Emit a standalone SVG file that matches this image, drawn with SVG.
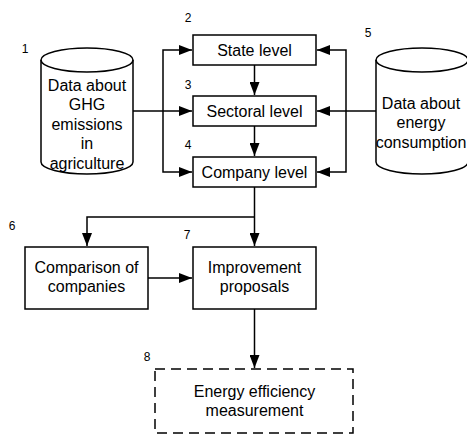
<svg xmlns="http://www.w3.org/2000/svg" width="467" height="435" viewBox="0 0 467 435">
<style>
text{font-family:"Liberation Sans",Arial,sans-serif;font-size:16px;fill:#000;text-anchor:middle;dominant-baseline:central}
.num{font-size:12px}
.box{fill:#fff;stroke:#000;stroke-width:1.5}
.dash{fill:#fff;stroke:#000;stroke-width:1.5;stroke-dasharray:10 6}
.cyl{fill:#fff;stroke:#000;stroke-width:1.5}
.c{fill:none;stroke:#000;stroke-width:1.5}
</style>
<defs>
<marker id="ah" markerUnits="userSpaceOnUse" markerWidth="14" markerHeight="10" refX="13" refY="5" orient="auto">
<path d="M0,0 L13,5 L0,10 Z" fill="#000"/>
</marker>
</defs>
<rect width="467" height="435" fill="#fff"/>
<g id="connectors">
<path class="c" d="M133,111 H192" marker-end="url(#ah)"/>
<path class="c" d="M163,111 V50 H192" marker-end="url(#ah)"/>
<path class="c" d="M163,111 V172 H192" marker-end="url(#ah)"/>
<path class="c" d="M376,111 H317" marker-end="url(#ah)"/>
<path class="c" d="M346,111 V50 H317" marker-end="url(#ah)"/>
<path class="c" d="M346,111 V172 H317" marker-end="url(#ah)"/>
<path class="c" d="M254.5,65 V95" marker-end="url(#ah)"/>
<path class="c" d="M254.5,126 V156" marker-end="url(#ah)"/>
<path class="c" d="M254.5,187 V246" marker-end="url(#ah)"/>
<path class="c" d="M254.5,217 H87 V246" marker-end="url(#ah)"/>
<path class="c" d="M148,278 H192" marker-end="url(#ah)"/>
<path class="c" d="M254.5,309 V368" marker-end="url(#ah)"/>
</g>
<g id="n1">
<path class="cyl" d="M41,60 V162 A46,12 0 0 0 133,162 V60 A46,12 0 0 0 41,60 Z"/>
<path class="c" d="M41,60 A46,12 0 0 0 133,60"/>
<text x="87" y="85">Data about</text>
<text x="87" y="104.5">GHG</text>
<text x="87" y="124">emissions</text>
<text x="87" y="143.5">in</text>
<text x="87" y="163">agriculture</text>
<text class="num" x="25" y="49">1</text>
</g>
<g id="n2">
<rect class="box" x="193" y="35" width="123" height="30"/>
<text x="254.5" y="50">State level</text>
<text class="num" x="188" y="18">2</text>
</g>
<g id="n3">
<rect class="box" x="193" y="96" width="123" height="30"/>
<text x="254.5" y="111">Sectoral level</text>
<text class="num" x="188" y="85">3</text>
</g>
<g id="n4">
<rect class="box" x="193" y="157" width="123" height="30"/>
<text x="254.5" y="172">Company level</text>
<text class="num" x="188" y="145">4</text>
</g>
<g id="n5">
<path class="cyl" d="M376,60 V162 A46,12 0 0 0 468,162 V60 A46,12 0 0 0 376,60 Z"/>
<path class="c" d="M376,60 A46,12 0 0 0 468,60"/>
<text x="421" y="103">Data about</text>
<text x="421" y="122.5">energy</text>
<text x="421" y="142">consumption</text>
<text class="num" x="368" y="33">5</text>
</g>
<g id="n6">
<rect class="box" x="25" y="247" width="123" height="62"/>
<text x="86.5" y="267">Comparison of</text>
<text x="86.5" y="286">companies</text>
<text class="num" x="12" y="226">6</text>
</g>
<g id="n7">
<rect class="box" x="193" y="247" width="123" height="62"/>
<text x="254.5" y="267">Improvement</text>
<text x="254.5" y="286">proposals</text>
<text class="num" x="187" y="235">7</text>
</g>
<g id="n8">
<rect class="dash" x="155" y="369" width="198" height="64"/>
<text x="254.5" y="391">Energy efficiency</text>
<text x="254.5" y="410">measurement</text>
<text class="num" x="147" y="357">8</text>
</g>
</svg>
